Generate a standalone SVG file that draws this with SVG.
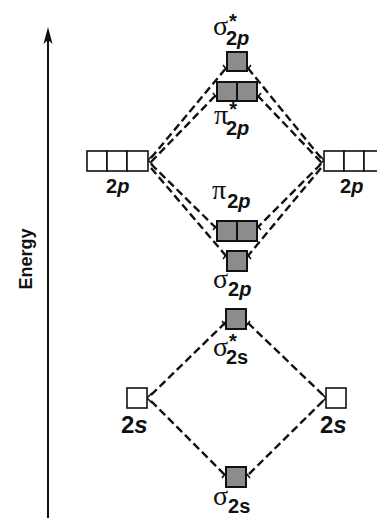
<svg xmlns="http://www.w3.org/2000/svg" width="377" height="518" viewBox="0 0 377 518">
<defs>
<style>
.bg{fill:#ffffff}
.ao{fill:#ffffff;stroke:#111;stroke-width:1.6}
.mo{fill:#8c8c8c;stroke:#111;stroke-width:2}
.dash{fill:none;stroke:#111;stroke-width:2.4;stroke-dasharray:8 4}
.tick{fill:none;stroke:#111;stroke-width:1.6}
.gr{font-family:"Liberation Serif","DejaVu Serif",serif;font-size:28px;fill:#111}
.sub{font-family:"Liberation Sans","DejaVu Sans",sans-serif;font-size:20px;font-weight:bold;fill:#111}
.star{font-family:"Liberation Sans","DejaVu Sans",sans-serif;font-size:20px;font-weight:bold;fill:#111}
.aol{font-family:"Liberation Sans","DejaVu Sans",sans-serif;font-weight:bold;fill:#111}
.it{font-style:italic}
</style>
</defs>
<rect class="bg" width="377" height="518"/>
<g id="axis">
<line x1="48" y1="40" x2="48" y2="518" stroke="#111" stroke-width="2"/>
<polygon points="48,27 43.5,44 48,40 52.5,44" fill="#111"/>
<text class="aol" font-size="18" transform="translate(32,259) rotate(-90)" text-anchor="middle">Energy</text>
</g>
<g id="connectors">
<path class="dash" d="M151,158 L227,67 M151,162 L216,95 M151,164 L216,228 M151,168 L227,257"/>
<path class="dash" d="M321,158 L247,67 M321,162 L257,95 M321,164 L257,228 M321,168 L247,257"/>
<path class="dash" d="M151,395 L226,322 M151,401 L226,476"/>
<path class="dash" d="M323,395 L247,322 M323,401 L247,476"/>
<path class="tick" d="M148,160 L153,155 M148,160 L153,165 M324,160 L319,155 M324,160 L319,165 M147,398 L152,393 M147,398 L152,403 M326,398 L321,393 M326,398 L321,403"/>
<path class="tick" d="M227,70 L223,65 M247,70 L251,65 M217,98 L213,93 M257,98 L261,93 M217,225 L213,230 M257,225 L261,230 M227,254 L223,259 M247,254 L251,259 M226,326 L222,321 M246,326 L250,321 M226,473 L222,478 M246,473 L250,478"/>
</g>
<g id="sigma_star_2p">
<rect class="mo" x="227" y="52" width="20" height="19"/>
<text x="213" y="35"><tspan class="gr">σ</tspan><tspan class="star" dx="1" dy="-7">*</tspan><tspan class="sub" dx="-11" dy="17">2<tspan class="it">p</tspan></tspan></text>
</g>
<g id="pi_star_2p">
<rect class="mo" x="217" y="82" width="20" height="19"/>
<rect class="mo" x="237" y="82" width="20" height="19"/>
<text x="214" y="124"><tspan class="gr">π</tspan><tspan class="star" dx="1" dy="-8">*</tspan><tspan class="sub" dx="-11" dy="19">2<tspan class="it">p</tspan></tspan></text>
</g>
<g id="left_2p">
<rect class="ao" x="87" y="151" width="20" height="20"/>
<rect class="ao" x="107" y="151" width="20" height="20"/>
<rect class="ao" x="127" y="151" width="21" height="20"/>
<text class="aol" font-size="20" x="106" y="193">2<tspan class="it">p</tspan></text>
</g>
<g id="right_2p">
<rect class="ao" x="324" y="151" width="20" height="20"/>
<rect class="ao" x="344" y="151" width="20" height="20"/>
<rect class="ao" x="364" y="151" width="21" height="20"/>
<text class="aol" font-size="20" x="340" y="193">2<tspan class="it">p</tspan></text>
</g>
<g id="pi_2p">
<text x="212" y="199"><tspan class="gr">π</tspan><tspan class="sub" dx="1" dy="9">2<tspan class="it">p</tspan></tspan></text>
<rect class="mo" x="217" y="221" width="20" height="20"/>
<rect class="mo" x="237" y="221" width="20" height="20"/>
</g>
<g id="sigma_2p">
<rect class="mo" x="227" y="251" width="20" height="20"/>
<text x="213" y="288"><tspan class="gr">σ</tspan><tspan class="sub" dx="0" dy="8">2<tspan class="it">p</tspan></tspan></text>
</g>
<g id="sigma_star_2s">
<rect class="mo" x="226" y="309" width="20" height="20"/>
<text x="213" y="356"><tspan class="gr">σ</tspan><tspan class="star" dx="1" dy="-8">*</tspan><tspan class="sub" dx="-11" dy="16">2s</tspan></text>
</g>
<g id="left_2s">
<rect class="ao" x="127" y="388" width="20" height="20"/>
<text class="aol" font-size="24" x="121" y="433">2<tspan class="it">s</tspan></text>
</g>
<g id="right_2s">
<rect class="ao" x="326" y="388" width="20" height="20"/>
<text class="aol" font-size="24" x="320" y="433">2<tspan class="it">s</tspan></text>
</g>
<g id="sigma_2s">
<rect class="mo" x="226" y="467" width="20" height="20"/>
<text x="213" y="505"><tspan class="gr">σ</tspan><tspan class="sub" dx="0" dy="8">2s</tspan></text>
</g>
</svg>
